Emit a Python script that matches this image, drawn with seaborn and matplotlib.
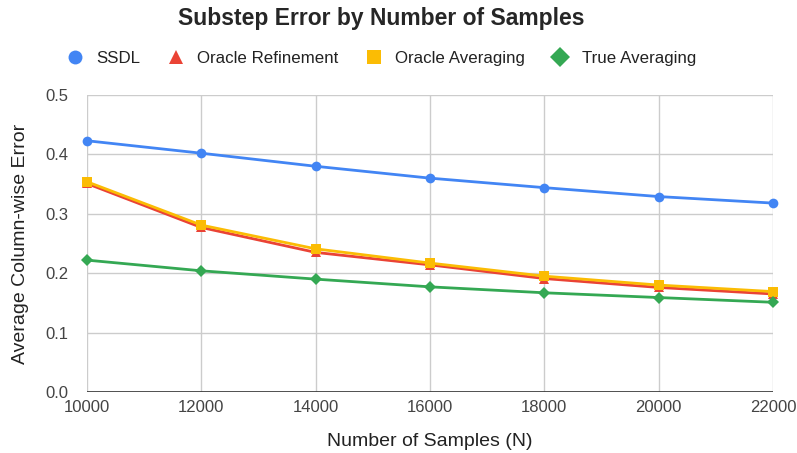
import pandas as pd
import seaborn as sns
import matplotlib
matplotlib.use("Agg")
import matplotlib.pyplot as plt

samples = [10000, 12000, 14000, 16000, 18000, 20000, 22000]
ssdl = [0.423, 0.402, 0.380, 0.360, 0.344, 0.329, 0.318]
oracle_ref = [0.351, 0.277, 0.235, 0.214, 0.191, 0.176, 0.165]
oracle_avg = [0.354, 0.281, 0.241, 0.217, 0.195, 0.180, 0.169]
true_avg = [0.222, 0.204, 0.190, 0.177, 0.167, 0.159, 0.151]

series = ["SSDL", "Oracle Refinement", "Oracle Averaging", "True Averaging"]
colors = ["#4285F4", "#EA4335", "#FBBC04", "#34A853"]
markers = ["o", "^", "s", "D"]

rows = []
for name, vals in zip(series, [ssdl, oracle_ref, oracle_avg, true_avg]):
    for n, v in zip(samples, vals):
        rows.append({"N": n, "err": v, "series": name})
df = pd.DataFrame(rows)

sns.set_style("white")
plt.rcParams["font.family"] = ["Liberation Sans", "DejaVu Sans"]

fig = plt.figure(figsize=(7.97, 4.53), dpi=100)
ax = fig.add_axes([0.109, 0.1347, 0.861, 0.6556])

sizes = {"SSDL": 7, "Oracle Refinement": 7, "Oracle Averaging": 6.5, "True Averaging": 6}
for name, c, m in zip(series, colors, markers):
    sub = df[df.series == name]
    sns.lineplot(data=sub, x="N", y="err", color=c, marker=m, markersize=sizes[name],
                 markeredgewidth=0, linewidth=2, ax=ax, label=name, clip_on=False)

ax.set_xlim(10000, 22000)
ax.set_ylim(0, 0.5)
ax.set_xticks(samples)
ax.set_yticks([0.0, 0.1, 0.2, 0.3, 0.4, 0.5])
ax.set_yticklabels(["0.0", "0.1", "0.2", "0.3", "0.4", "0.5"])
ax.grid(True, color="#cccccc", linewidth=1)
ax.set_axisbelow(True)
for s in ax.spines.values():
    s.set_visible(False)
ax.axhline(0, color="#333333", linewidth=1.2, zorder=1.5)
ax.tick_params(axis="y", length=7.5, width=1, color="#cccccc", labelsize=12,
               labelcolor="#444444", pad=6)
ax.yaxis.get_major_ticks()[0].tick1line.set_color("#333333")
ax.tick_params(axis="x", length=0, labelsize=12, labelcolor="#444444", pad=6)
ax.set_xlabel("Number of Samples (N)", fontsize=14, color="#222222", labelpad=13)
ax.set_ylabel("Average Column-wise Error", fontsize=14, color="#222222")
ax.yaxis.set_label_coords(-0.085, 0.5)

fig.suptitle("Substep Error by Number of Samples", x=0.478, y=0.985, fontsize=16.5,
             fontweight="bold")

ax.legend(loc="lower center", bbox_to_anchor=(0.429, 1.045), ncol=4, frameon=False,
          fontsize=12.2, handlelength=1.0, columnspacing=1.6, handletextpad=0.75,
          labelcolor="#222222")
leg = ax.get_legend()
for h in leg.legend_handles:
    h.set_linestyle("none")
    h.set_markersize(10)

fig.savefig("out.png", dpi=100)
